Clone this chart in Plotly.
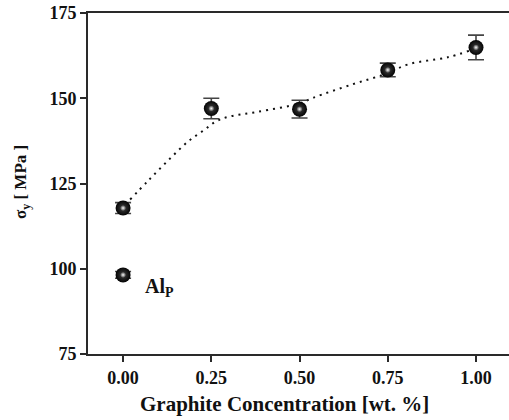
import plotly.graph_objects as go

conc = [0.0, 0.25, 0.50, 0.75, 1.00]
sigma = [117.8, 147.0, 146.8, 158.3, 164.9]
sigma_err = [1.6, 3.0, 2.6, 2.0, 3.6]

alp_x = [0.0]
alp_y = [98.2]
alp_err = [1.0]

fit_x = [0.02, 0.07, 0.13, 0.185, 0.23, 0.265, 0.30, 0.38, 0.50, 0.54, 0.65, 0.74, 0.81, 0.92, 0.98]
fit_y = [120.3, 125.7, 132.0, 137.4, 140.7, 143.3, 144.6, 146.0, 148.5, 150.2, 154.1, 157.0, 160.0, 162.0, 163.9]

x_ticks = [0.0, 0.25, 0.5, 0.75, 1.0]
x_ticktext = ["0.00", "0.25", "0.50", "0.75", "1.00"]
y_ticks = [75, 100, 125, 150, 175]

FONT = "Liberation Serif"
AX = "#2a2a2a"

fig = go.Figure()

fig.add_trace(go.Scatter(
    x=fit_x, y=fit_y, mode="lines",
    line=dict(color="#111", width=2, dash="2px,5px", shape="spline"),
    hoverinfo="skip", showlegend=False))

for xs, ys, es in [(conc, sigma, sigma_err), (alp_x, alp_y, alp_err)]:
    fig.add_trace(go.Scatter(
        x=xs, y=ys, mode="markers",
        error_y=dict(type="data", array=es, visible=True, color="#444", thickness=1.6, width=8),
        marker=dict(size=15, color="#030303", line=dict(width=0),
                    gradient=dict(type="radial", color="#444444")),
        showlegend=False))
    fig.add_trace(go.Scatter(
        x=xs, y=ys, mode="markers",
        marker=dict(size=6, color="rgba(255,255,255,0)", line=dict(width=0),
                    gradient=dict(type="radial", color="#f8f8f8")),
        hoverinfo="skip", showlegend=False))

PW = 509 - 88
PH = 420 - 13 - 66

fig.update_layout(
    width=509, height=420,
    margin=dict(l=88, r=0, t=13, b=66),
    paper_bgcolor="white", plot_bgcolor="white",
    font=dict(family=FONT, size=16, color="#111"),
    annotations=[
        dict(x=(284 - 88) / PW, y=(354 - 404) / PH, xref="paper", yref="paper",
             text="<b>Graphite Concentration [wt. %]</b>", showarrow=False,
             xanchor="center", yanchor="middle",
             font=dict(family=FONT, size=21, color="#111")),
        dict(x=(22 - 88) / PW, y=(354 - 182) / PH, xref="paper", yref="paper",
             text="<b>σ<sub>y</sub> [ MPa ]</b>", showarrow=False, textangle=-90,
             xanchor="center", yanchor="middle",
             font=dict(family=FONT, size=17, color="#111")),
        dict(x=0.057, y=94.5, xref="x", yref="y", text="<b>Al<sub>P</sub></b>",
             showarrow=False, xanchor="left", yanchor="middle",
             font=dict(family=FONT, size=20, color="#111")),
    ],
    xaxis=dict(range=[-0.0994, 1.0935], tickvals=x_ticks, ticktext=["<b>%s</b>" % t for t in x_ticktext],
               showgrid=False, zeroline=False, showline=True, linecolor=AX, linewidth=2,
               mirror=True, ticks="outside", ticklen=6, tickwidth=1.5, tickcolor=AX,
               tickfont=dict(family=FONT, size=18, color="#111")),
    yaxis=dict(range=[75, 175], tickvals=y_ticks, ticktext=["<b>%d</b>" % t for t in y_ticks],
               showgrid=False, zeroline=False, showline=True, linecolor=AX, linewidth=2,
               ticks="outside", ticklen=6, tickwidth=1.5, tickcolor=AX,
               tickfont=dict(family=FONT, size=18, color="#111")),
)

fig.write_html("out.html", config={"displayModeBar": False},
               post_script="document.body.style.margin='0';")
